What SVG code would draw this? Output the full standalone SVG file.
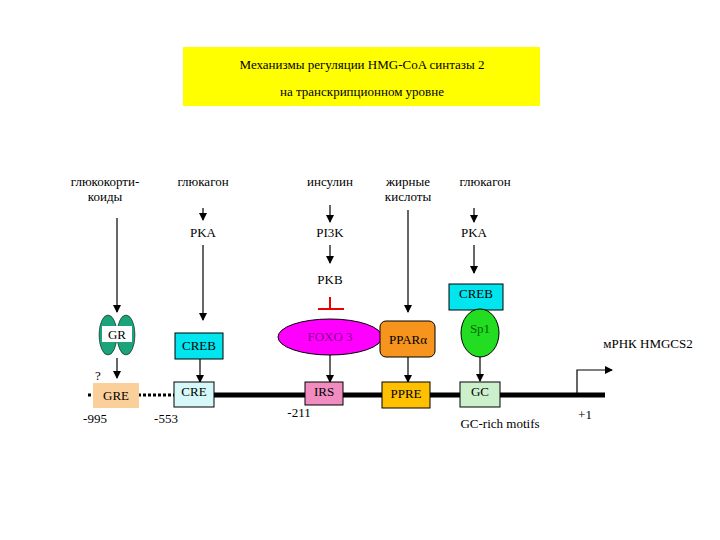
<svg xmlns="http://www.w3.org/2000/svg" width="720" height="540" viewBox="0 0 720 540">
<style>
text{font-family:"Liberation Serif",serif;font-size:13px;fill:#000;text-anchor:middle}
.a{stroke:#000;stroke-width:1.2;fill:none;marker-end:url(#ah)}
.b{stroke:#000;stroke-width:1;}
</style>
<defs><marker id="ah" markerWidth="8" markerHeight="8" refX="7" refY="4" orient="auto" markerUnits="userSpaceOnUse"><path d="M0,0L8,4L0,8z" fill="#000"/></marker></defs>
<rect width="720" height="540" fill="#fff"/>
<g id="title"><rect x="183" y="47" width="357" height="59" fill="#FFFF00"/><text x="362" y="69">Механизмы регуляции HMG-CoA синтазы 2</text><text x="362" y="96">на транскрипционном уровне</text></g>
<g id="labels">
<text x="105" y="186">глюкокорти-</text><text x="105" y="201">коиды</text>
<text x="203" y="186">глюкагон</text><text x="330" y="186">инсулин</text>
<text x="408" y="186">жирные</text><text x="408" y="201">кислоты</text>
<text x="485" y="186">глюкагон</text>
<text x="203" y="237">PKA</text><text x="330" y="237">PI3K</text><text x="330" y="284">PKB</text><text x="474" y="237">PKA</text>
<text x="98" y="380">?</text><text x="95" y="423">-995</text><text x="166" y="423">-553</text><text x="299" y="417">-211</text>
<text x="500" y="428">GC-rich motifs</text><text x="585" y="419">+1</text><text x="648" y="348">мРНК HMGCS2</text>
</g>
<g id="connectors">
<line x1="88" y1="395" x2="175" y2="395" stroke="#000" stroke-width="3" stroke-dasharray="3,2"/>
<line x1="175" y1="395" x2="605" y2="395" stroke="#000" stroke-width="5"/>
<path class="a" d="M117,218V312" stroke-width="2"/>
<path class="a" d="M117,358V378" stroke-width="2"/>
<path class="a" d="M203,208V220"/><path class="a" d="M203,245V320"/><path class="a" d="M200,359V382"/>
<path class="a" d="M330,205V222"/><path class="a" d="M330,245V263"/><path class="a" d="M330,355V382"/>
<path d="M330,297V309M318,309H344" stroke="#E00" stroke-width="2" fill="none"/>
<path class="a" d="M408,210V312"/><path class="a" d="M408,357V382"/>
<path class="a" d="M474,208V222"/><path class="a" d="M474,245V273"/><path class="a" d="M480,357V381"/>
<path class="a" d="M577,395V370H612" stroke-width="1.2"/>
</g>
<g id="GR"><ellipse cx="108" cy="335" rx="9" ry="20" fill="#1CA37A" stroke="#000" stroke-width="0.5"/><ellipse cx="126" cy="335" rx="9" ry="20" fill="#1CA37A" stroke="#000" stroke-width="0.5"/><rect x="102" y="326" width="30" height="16" fill="#fff"/><text x="117" y="339">GR</text></g>
<g id="CREB1"><rect x="175" y="333" width="48" height="26" fill="#00E5EE" class="b"/><text x="199" y="350">CREB</text></g>
<g id="GRE"><rect x="93" y="383" width="46" height="25" fill="#FBCF9A"/><text x="116" y="400">GRE</text></g>
<g id="CRE"><rect x="174" y="382" width="40" height="25" fill="#D6F8F8" class="b"/><text x="194" y="396">CRE</text></g>
<g id="FOXO3"><ellipse cx="330" cy="337" rx="52" ry="18" fill="#FF00FF" class="b"/><text x="330" y="341" style="fill:#8B008B">FOXO 3</text></g>
<g id="IRS"><rect x="305" y="382" width="38" height="23" fill="#F08CC0" class="b"/><text x="324" y="396">IRS</text></g>
<g id="PPARa"><rect x="380" y="321" width="55" height="36" rx="6" fill="#F7941D" class="b"/><text x="408" y="344">PPARα</text></g>
<g id="PPRE"><rect x="382" y="382" width="48" height="26" fill="#FFC000" class="b"/><text x="406" y="398">PPRE</text></g>
<g id="CREB2"><rect x="449" y="284" width="54" height="26" fill="#00E5EE" class="b"/><text x="476" y="298">CREB</text></g>
<g id="Sp1"><ellipse cx="480" cy="333" rx="19" ry="24" fill="#22DD22" class="b"/><text x="480" y="333" style="fill:#006600">Sp1</text></g>
<g id="GC"><rect x="460" y="382" width="40" height="25" fill="#CCF0CC" class="b"/><text x="480" y="396">GC</text></g>
</svg>
